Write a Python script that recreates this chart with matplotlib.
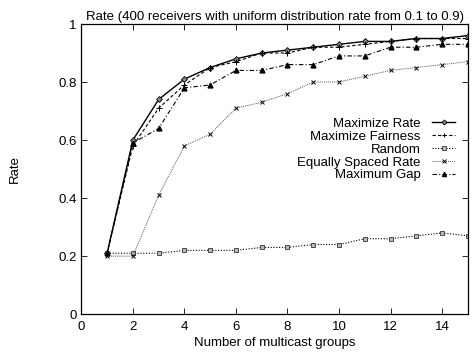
import numpy as np
import matplotlib
matplotlib.use("Agg")
import matplotlib.pyplot as plt

# number of multicast groups
groups = np.arange(1, 16)

max_rate = [0.21, 0.60, 0.74, 0.81, 0.85, 0.88, 0.90, 0.91, 0.92, 0.93,
            0.94, 0.94, 0.95, 0.95, 0.96]
max_fair = [0.21, 0.58, 0.71, 0.79, 0.85, 0.87, 0.90, 0.90, 0.92, 0.92,
            0.93, 0.94, 0.95, 0.95, 0.95]
random_sel = [0.21, 0.21, 0.21, 0.22, 0.22, 0.22, 0.23, 0.23, 0.24, 0.24,
              0.26, 0.26, 0.27, 0.28, 0.27]
equal_spaced = [0.20, 0.20, 0.41, 0.58, 0.62, 0.71, 0.73, 0.76, 0.80, 0.80,
                0.82, 0.84, 0.85, 0.86, 0.87]
max_gap = [0.21, 0.59, 0.64, 0.78, 0.79, 0.84, 0.84, 0.86, 0.86, 0.89,
           0.89, 0.92, 0.92, 0.93, 0.93]

labels = ["Maximize Rate", "Maximize Fairness", "Random",
          "Equally Spaced Rate", "Maximum Gap"]

plt.rcParams['font.family'] = ['Liberation Sans', 'DejaVu Sans']
fs = 9.5

fig = plt.figure(figsize=(4.73, 3.53), dpi=100)
ax = fig.add_axes([0.172, 0.110, 0.817, 0.822])

ax.plot(groups, max_rate, color='black', lw=1.0, ls='-',
        marker='D', ms=3, mfc='#888888', mec='black', mew=0.6,
        label=labels[0])
ax.plot(groups, max_fair, color='black', lw=0.8, ls=(0, (3, 2)),
        marker='+', ms=4, mew=0.7, label=labels[1])
ax.plot(groups, random_sel, color='black', lw=0.8, ls=(0, (1, 1.5)),
        marker='s', ms=3.5, mfc='#bbbbbb', mec='#333333', mew=0.6,
        label=labels[2])
ax.plot(groups, equal_spaced, color='#555555', lw=0.7, ls=(0, (1, 1)),
        marker='x', ms=3.5, mec='black', mew=0.7, label=labels[3])
ax.plot(groups, max_gap, color='black', lw=0.8, ls=(0, (4, 2, 1, 2)),
        marker='^', ms=3.5, mfc='black', mec='black', label=labels[4])

ax.set_xlim(0, 15)
ax.set_ylim(0, 1)
ax.set_xticks(np.arange(0, 15, 2))
ax.set_yticks([0, 0.2, 0.4, 0.6, 0.8, 1])
ax.set_yticklabels(["0", "0.2", "0.4", "0.6", "0.8", "1"])
ax.tick_params(direction='in', top=True, right=True, labelsize=fs,
               length=4, width=0.6)
ax.tick_params(axis='x', pad=5)
for s in ax.spines.values():
    s.set_linewidth(0.9)

ax.set_xlabel("Number of multicast groups", fontsize=fs, labelpad=3)
ax.set_ylabel("Rate", fontsize=fs, labelpad=27)
ax.set_title("Rate (400 receivers with uniform distribution rate from 0.1 to 0.9)",
             fontsize=fs, pad=3)

leg = ax.legend(loc='upper right', bbox_to_anchor=(0.985, 0.70),
                frameon=False, markerfirst=False, fontsize=fs,
                handlelength=1.75, handletextpad=0.9, labelspacing=0.05,
                borderpad=0, markerscale=0.85)

fig.savefig("out.png", dpi=100)
